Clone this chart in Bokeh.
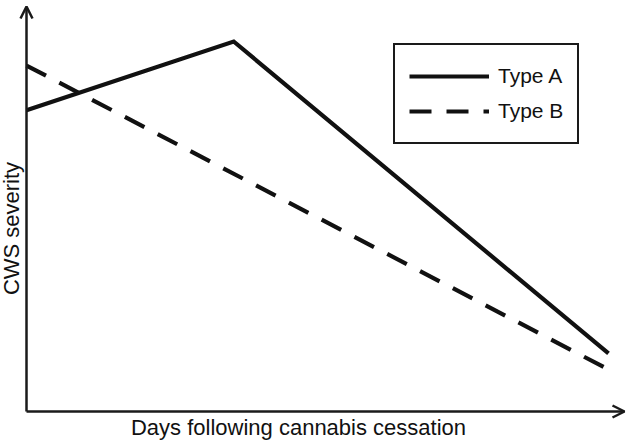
import math
from bokeh.plotting import figure
from bokeh.models import Range1d, Arrow, OpenHead, Label, Legend, LegendItem
from bokeh.embed import file_html
from bokeh.resources import INLINE

# ---- data (arbitrary units) ----
days_a = [0, 35.6, 100]
sev_a = [81.4, 100, 15.7]
days_b = [0, 100.3]
sev_b = [93.5, 11.1]
series_names = ["Type A", "Type B"]
x_title = "Days following cannabis cessation"
y_title = "CWS severity"

# ---- layout ----
W, H = 628, 440
ox, oy = 26, 29          # origin offset in canvas px (from left, from bottom)
sx, sy = 5.82, 3.7       # px per unit
x_range = Range1d(-ox / sx, (W - ox) / sx)
y_range = Range1d(-oy / sy, (H - oy) / sy)

def px_x(px):
    return (px - ox) / sx

def px_y(py):
    return ((H - oy) - py) / sy

p = figure(width=W, height=H, x_range=x_range, y_range=y_range,
           output_backend="svg", toolbar_location=None, min_border=0,
           outline_line_color=None)
p.axis.visible = False
p.grid.visible = False
p.background_fill_color = "white"
p.border_fill_color = "white"

ra = p.line(days_a, sev_a, line_color="#111111", line_width=4.2, line_join="miter")
rb = p.line(days_b, sev_b, line_color="#111111", line_width=4.2, line_dash="22 15")

# axes with arrows
p.add_layout(Arrow(x_start=0, y_start=0, x_end=0, y_end=px_y(6),
                   line_color="#1a1a1a", line_width=2.5,
                   end=OpenHead(size=12, line_width=2.5, line_color="#1a1a1a")))
p.add_layout(Arrow(x_start=0, y_start=0, x_end=px_x(624), y_end=0,
                   line_color="#1a1a1a", line_width=2.5,
                   end=OpenHead(size=12, line_width=2.5, line_color="#1a1a1a")))

# axis titles
p.add_layout(Label(x=px_x(298), y=px_y(427),
                   text=x_title, text_align="center", text_baseline="middle",
                   text_font="Liberation Sans", text_font_size="22px",
                   text_color="#111111"))
p.add_layout(Label(x=px_x(11), y=px_y(228),
                   text=y_title, text_align="center", text_baseline="middle",
                   angle=math.pi / 2,
                   text_font="Liberation Sans", text_font_size="22px",
                   text_color="#111111"))

legend = Legend(items=[LegendItem(label=series_names[0], renderers=[ra]),
                       LegendItem(label=series_names[1], renderers=[rb])],
                location=(393, H - 144),
                border_line_color="#1a1a1a", border_line_width=2,
                border_line_alpha=1,
                padding=14, spacing=1, margin=0,
                glyph_width=80, glyph_height=34, label_height=34,
                label_standoff=9,
                label_text_font="Liberation Sans", label_text_font_size="21px",
                label_text_color="#111111", background_fill_alpha=1)
p.add_layout(legend)

open("out.html", "w").write(file_html(p, INLINE))
